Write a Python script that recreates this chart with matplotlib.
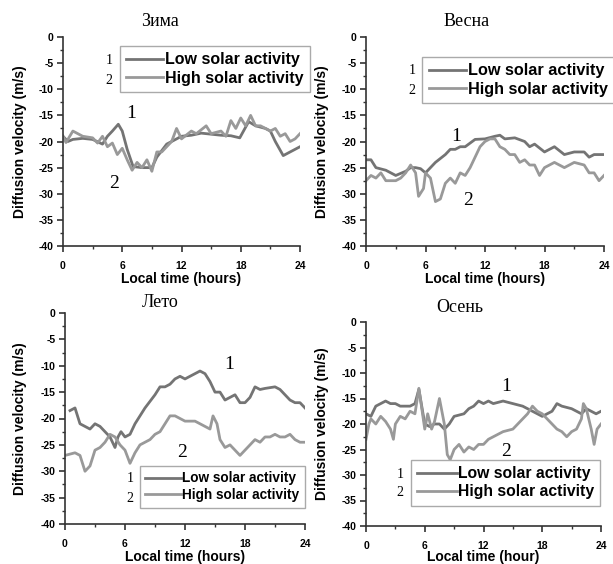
import matplotlib
matplotlib.use("Agg")
import matplotlib.pyplot as plt
from matplotlib.ticker import MultipleLocator

plt.rcParams['axes.unicode_minus'] = False
plt.rcParams['font.family'] = ['Liberation Sans', 'DejaVu Sans']

titles = ["Зима", "Весна", "Лето", "Осень"]
xlabels = ["Local time (hours)", "Local time (hours)", "Local time (hours)", "Local time (hour)"]
ylabel = "Diffusion velocity (m/s)"
legend_labels = ["Low solar activity", "High solar activity"]
xticks = [0, 6, 12, 18, 24]
yticks = [0, -5, -10, -15, -20, -25, -30, -35, -40]

# Winter
w_low_t = [0, 0.5, 1, 2, 3, 4, 4.5, 5, 5.6, 6, 6.5, 7.1, 8, 9, 9.5, 10.5, 12, 13, 14, 15, 16, 17, 17.9, 18.8, 19.5, 20.5, 21, 21.5, 22.3, 23, 24]
w_low_v = [-19, -20, -19.6, -19.4, -19.6, -20.5, -19, -18, -16.7, -18, -21.5, -24.8, -25, -25, -23, -20.5, -19, -18.8, -18.4, -18.6, -18.8, -18.9, -19.3, -16.2, -17, -17.5, -18, -20, -22.7, -22, -21]
w_high_t = [0, 0.3, 1, 1.5, 2, 3, 3.5, 4, 4.5, 5, 5.5, 6, 6.5, 7, 7.5, 8, 8.5, 9, 9.5, 10, 11, 11.5, 12, 13, 13.5, 14.5, 15, 16, 16.5, 17, 17.5, 18, 18.5, 19, 19.5, 20, 21, 21.5, 22, 22.5, 23, 23.5, 24]
w_high_v = [-19, -20.2, -18, -18.5, -19, -19.3, -20.3, -19, -21, -20.3, -22.5, -21.3, -23.5, -25.5, -24, -25, -23.5, -25.7, -22, -22, -20, -17.5, -19.5, -18, -18.5, -17, -18.5, -18, -19, -16, -17.5, -15.5, -17, -15, -17, -17, -18, -17.5, -19, -18.5, -20, -19.5, -18.5]

# Spring
s_low_t = [0, 0.5, 1, 2, 3, 4, 4.5, 5, 5.5, 6, 6.5, 7, 8, 8.5, 9, 9.5, 10, 11, 12, 13, 13.5, 14, 15, 16, 16.5, 17, 18, 19, 20, 21, 22, 22.5, 23, 23.5, 24]
s_low_v = [-23.5, -23.5, -25, -25.5, -26.5, -25.7, -25, -25, -25.2, -26, -25, -24, -22.5, -21.5, -21.5, -21, -21, -19.6, -19.5, -19, -18.8, -19.5, -19.3, -20, -21, -20.5, -22, -21, -22.5, -22, -22, -23, -22.5, -22.5, -22.5]
s_high_t = [0, 0.5, 1, 1.5, 2, 3, 3.5, 4, 4.5, 5, 5.3, 5.8, 6, 6.5, 7, 7.5, 8, 8.5, 9, 9.5, 10, 10.5, 11, 11.5, 12, 12.5, 13, 13.5, 14, 14.5, 15, 15.5, 16, 16.5, 17, 17.5, 18, 19, 20, 21, 22, 22.5, 23, 23.5, 24]
s_high_v = [-27.5, -26.5, -27, -26, -27.5, -27.5, -27, -26, -24.5, -26, -30.5, -29, -26, -27, -31.5, -31, -28, -27, -28, -26, -26.5, -25, -23, -21, -20, -19.5, -19.5, -21, -21.5, -22.5, -22.5, -24, -23.5, -24.5, -24.5, -26.5, -25, -24, -25, -24, -24.5, -26, -26, -27.5, -26.5]

# Summer
u_low_t = [0.5, 1, 1.5, 2, 2.5, 3, 3.5, 4, 4.5, 5, 5.3, 5.6, 6, 6.5, 7, 7.5, 8, 9, 9.5, 10, 10.5, 11, 11.5, 12, 12.5, 13, 13.5, 14, 14.5, 15, 15.5, 16, 16.5, 17, 17.5, 18, 18.5, 19, 19.5, 20, 21, 21.5, 22, 22.5, 23, 23.5, 24]
u_low_v = [-18.5, -18, -21, -21.5, -22, -21, -21.5, -22.5, -23.5, -25.5, -23.5, -22.5, -23.5, -23, -21, -19.5, -18, -15.5, -14, -14, -13.5, -12.5, -12, -12.5, -12, -11.5, -11, -11.5, -13, -15, -15, -16.5, -16, -15.5, -17, -17, -16, -14, -14.5, -14.3, -14, -14.5, -15.5, -16.5, -17, -17, -18]
u_high_t = [0, 1, 1.5, 2, 2.5, 3, 3.5, 4, 4.5, 5, 5.5, 6, 6.5, 7, 7.5, 8, 8.5, 9, 9.5, 10, 10.5, 11, 12, 13, 14, 14.5, 14.8, 15.2, 15.5, 16, 16.5, 17, 17.5, 18, 18.5, 19, 19.5, 20, 20.5, 21, 21.5, 22, 22.5, 23, 23.5, 24]
u_high_v = [-27, -26.5, -27, -30, -29, -26, -25.5, -24.5, -23, -23.5, -25, -26, -28.5, -26.5, -25, -24.5, -24, -23, -22.5, -21, -19.5, -19.5, -20.5, -20.5, -21.5, -22, -19.5, -21, -24, -25.5, -25, -26, -27, -26, -25, -24, -24.5, -23.5, -23.5, -23, -23.5, -23.5, -23, -24, -24.5, -24.5]

# Autumn
a_low_t = [0, 0.5, 1, 1.5, 2, 2.5, 3, 3.5, 4, 4.5, 5, 5.4, 6, 6.5, 7, 7.5, 8, 8.5, 9, 10, 10.5, 11, 11.5, 12, 12.5, 13, 14, 15, 16, 17, 17.5, 18, 18.5, 19, 19.5, 20, 21, 21.5, 22, 22.5, 23, 23.5, 24]
a_low_v = [-18, -18.5, -16.5, -16, -15.5, -16, -16, -16.5, -16.5, -16.5, -16, -13.2, -20, -20.5, -20, -20, -21, -20, -18.5, -18, -17, -16.5, -15.5, -16, -15.5, -16, -15.5, -16, -16.5, -17.5, -18, -18.5, -18, -17.5, -16, -16.5, -17, -17.5, -18, -17, -17.5, -18, -17.5]
a_high_t = [0, 0.3, 0.5, 1, 1.5, 2, 2.5, 2.8, 3, 3.5, 4, 4.5, 5, 5.4, 5.7, 6, 6.3, 6.7, 7, 7.5, 8, 8.3, 8.6, 9, 9.5, 10, 10.5, 11, 11.5, 12, 12.5, 13, 13.5, 14, 15, 15.5, 16, 16.5, 17, 17.5, 18, 18.5, 19, 19.5, 20, 20.5, 21, 21.5, 22, 22.2, 22.5, 23, 23.3, 23.6, 24]
a_high_v = [-23, -20, -19, -20, -18.5, -19.5, -21, -23, -20, -18.5, -19, -17.5, -18, -13, -17, -21, -18, -21, -19.5, -15, -20, -26, -27, -25, -24, -25.5, -24.5, -25, -24, -24, -23, -22.5, -22, -21.5, -21, -20, -19, -18, -16.5, -17.5, -18, -19, -20, -21, -21.5, -22.5, -21.5, -21, -19, -16, -17, -21, -24, -21, -20]

series = [
    (w_low_t, w_low_v, w_high_t, w_high_v),
    (s_low_t, s_low_v, s_high_t, s_high_v),
    (u_low_t, u_low_v, u_high_t, u_high_v),
    (a_low_t, a_low_v, a_high_t, a_high_v),
]

W, H = 613, 564
fig = plt.figure(figsize=(W / 100, H / 100), dpi=100)

# pixel boxes: left, right, top, bottom
boxes = [(63, 300, 37, 246), (366, 604, 37, 246), (65, 305, 313, 524), (366, 601, 322, 526)]
title_pos = [(160, 22), (467, 22), (160, 302), (460, 308)]
xlabel_y = [279, 279, 557, 557]
ylabel_x = [20, 322, 20, 322]
legend_box = [(120, 46), (422, 57), (140, 466), (411, 460)]
legend_size = [11.5, 11.7, 9.8, 11.3]
legend_handle = [2.3, 2.3, 2.6, 2.5]
num_pos = [((109, 61), (109, 80)), ((412, 71), (412, 91)), ((130, 479), (130, 498)), ((400, 474), (400, 492))]
annot = [((6.9, -14.6), (5.2, -28.0)), ((9.1, -19.0), (10.3, -31.2)), ((16.4, -9.8), (11.7, -26.4)), ((14.3, -12.6), (14.3, -25.3))]

c_low = '#747474'
c_high = '#999999'
serif = ['Liberation Serif', 'DejaVu Serif']

for i, (l, r, t, b) in enumerate(boxes):
    ax = fig.add_axes([l / W, 1 - b / H, (r - l) / W, (b - t) / H])
    lt, lv, ht, hv = series[i]
    ln1, = ax.plot(lt, lv, color=c_low, lw=2.0, label=legend_labels[0])
    ln2, = ax.plot(ht, hv, color=c_high, lw=2.0, label=legend_labels[1])
    ax.set_xlim(0, 24)
    ax.set_ylim(-40, 0)
    ax.set_xticks(xticks)
    ax.set_yticks(yticks)
    ax.xaxis.set_minor_locator(MultipleLocator(3))
    ax.yaxis.set_minor_locator(MultipleLocator(2.5))
    ax.tick_params(which='major', direction='out', length=4, width=1.2, labelsize=7.5, color='#333333')
    ax.tick_params(axis='x', which='major', pad=6.5)
    ax.tick_params(axis='y', which='major', pad=3)
    ax.tick_params(which='minor', direction='out', length=2.5, width=1.0, color='#333333')
    for lab in ax.get_xticklabels() + ax.get_yticklabels():
        lab.set_fontweight('bold')
    for s in ['top', 'right']:
        ax.spines[s].set_visible(False)
    for s in ['left', 'bottom']:
        ax.spines[s].set_linewidth(1.2)
        ax.spines[s].set_color('#333333')
    ax.patch.set_alpha(0)

    fig.text(title_pos[i][0] / W, 1 - title_pos[i][1] / H, titles[i], family=serif,
             fontsize=13, ha='center', va='center')
    fig.text((l + r) / 2 / W, 1 - xlabel_y[i] / H, xlabels[i], fontsize=10,
             fontweight='bold', ha='center', va='center')
    fig.text(ylabel_x[i] / W, 1 - (t + b) / 2 / H, ylabel, fontsize=10,
             fontweight='bold', ha='center', va='center', rotation=90)

    leg = fig.legend(handles=[ln1, ln2], loc='upper left',
                     bbox_to_anchor=(legend_box[i][0] / W, 1 - legend_box[i][1] / H),
                     bbox_transform=fig.transFigure, borderaxespad=0,
                     prop={'weight': 'bold', 'size': legend_size[i]},
                     handlelength=legend_handle[i],
                     handletextpad=0.1, labelspacing=0.2, borderpad=0.4,
                     fancybox=False, framealpha=1)
    leg.get_frame().set_edgecolor('#aaaaaa')
    leg.get_frame().set_linewidth(1.0)

    for k, (px, py) in enumerate(num_pos[i]):
        fig.text(px / W, 1 - py / H, str(k + 1), family=serif, fontsize=10,
                 ha='center', va='center')
    for k, (dx, dy) in enumerate(annot[i]):
        ax.text(dx, dy, str(k + 1), family=serif, fontsize=14, ha='center', va='center')

fig.savefig('out.png', dpi=100)
